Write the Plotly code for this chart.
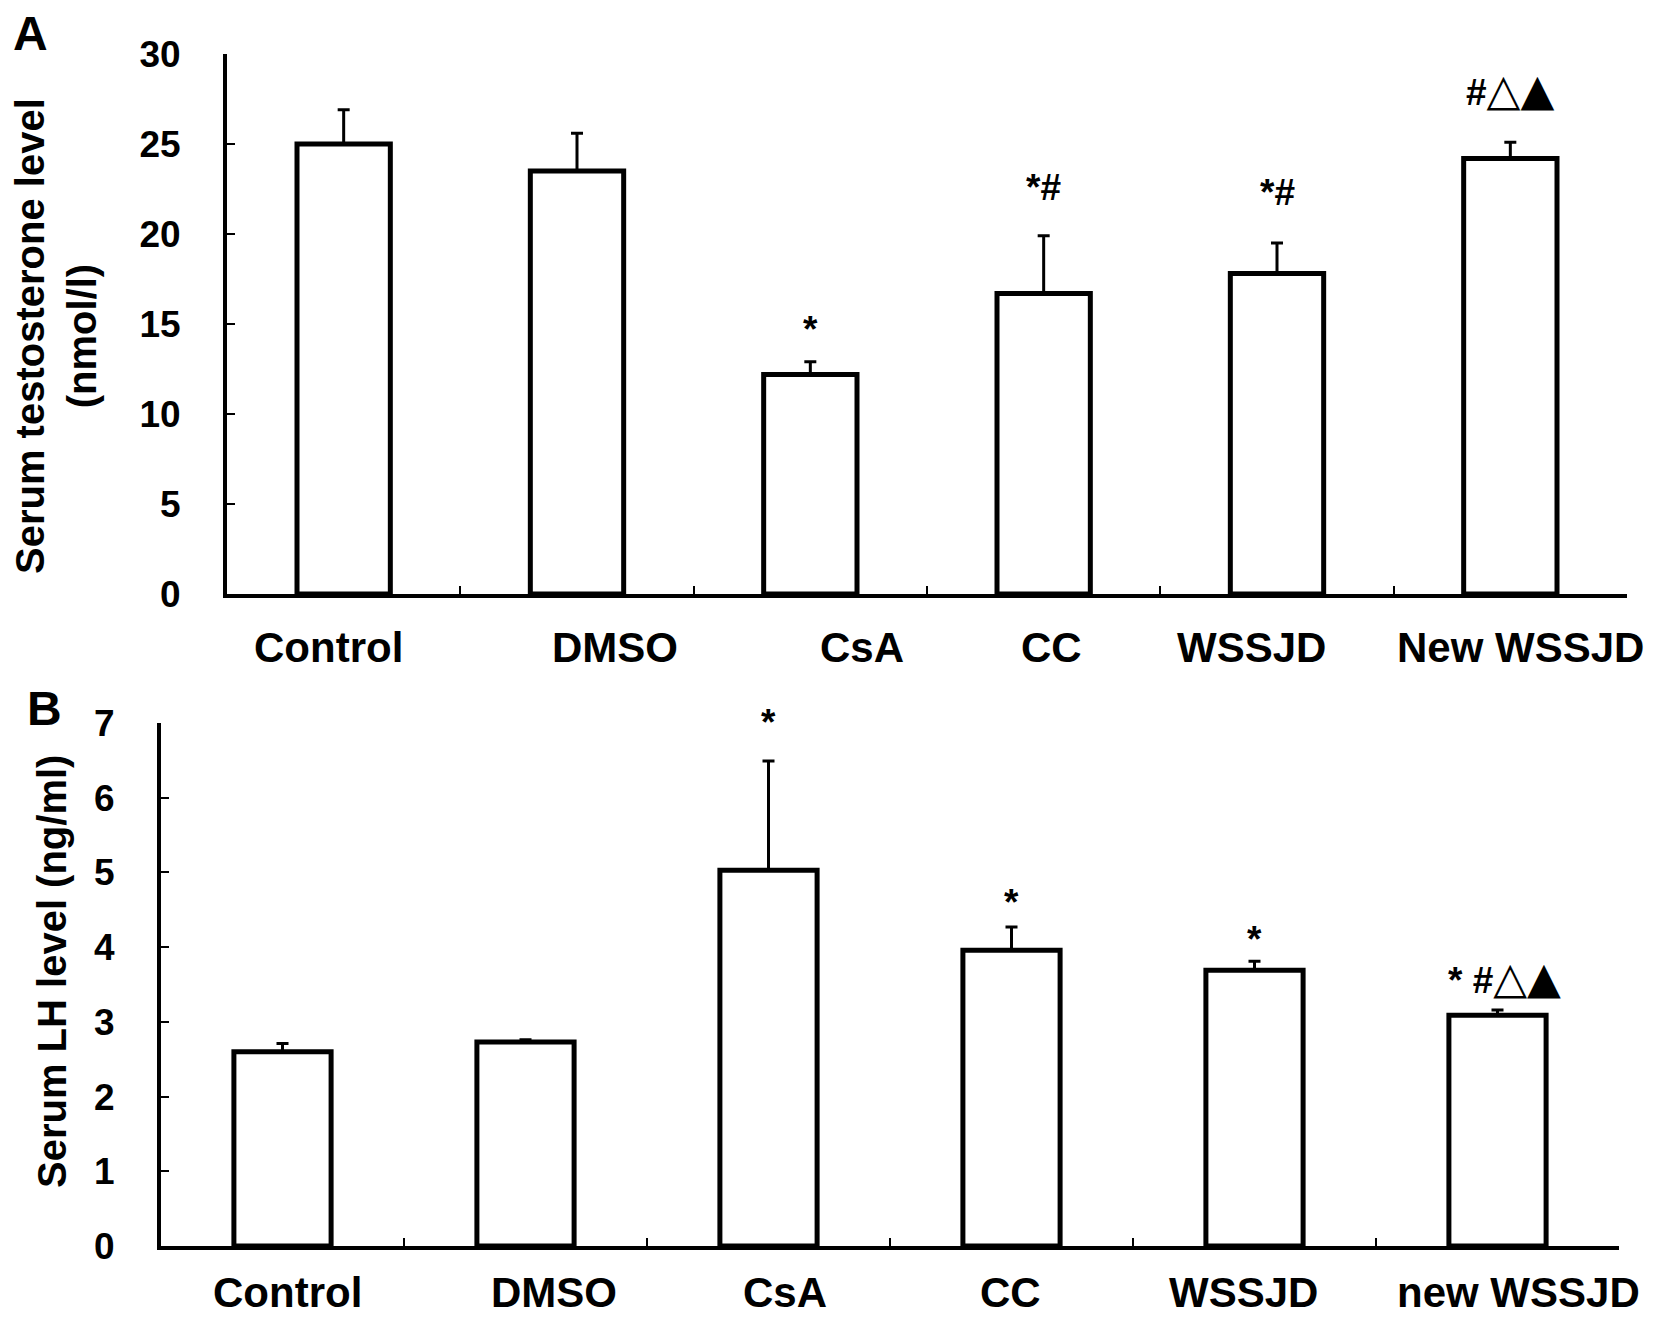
import plotly.graph_objects as go

# panel A: serum testosterone
groups_a = ["Control", "DMSO", "CsA", "CC", "WSSJD", "New WSSJD"]
testosterone = [25.0, 23.5, 12.2, 16.7, 17.8, 24.2]
testosterone_sd = [1.9, 2.1, 0.7, 3.2, 1.7, 0.9]
marks_a = ["", "", "*", "*#", "*#", "#△▲"]
marks_a_y = [0, 0, 14.7, 22.6, 22.3, 28.0]

# panel B: serum LH
groups_b = ["Control", "DMSO", "CsA", "CC", "WSSJD", "new WSSJD"]
lh = [2.60, 2.73, 5.03, 3.96, 3.69, 3.09]
lh_sd = [0.11, 0.03, 1.46, 0.31, 0.12, 0.07]
marks_b = ["", "", "*", "*", "*", "* #△▲"]
marks_b_y = [0, 0, 7.0, 4.6, 4.1, 3.6]

# the group names in the figure are not quite centred under the bars
label_shift_a = [-15, 38, 52, 8, -26, 10]
label_shift_b = [5, 28, 16, -1, -11, 21]

W, H = 1654, 1318
OFF = 8  # page body margin
FONT = "Liberation Sans, Arial, DejaVu Sans"


def px_x(p):
    return (p - OFF) / W


def px_y(p):
    return 1 - (p - OFF) / H


def styled(m):
    # triangles drawn bigger, like in the figure
    out = ""
    for ch in m:
        if ch in "△▲":
            out += "<span style='font-size:44px;font-family:DejaVu Sans'>%s</span>" % ch
        else:
            out += ch
    return out


fig = go.Figure()

fig.add_trace(go.Bar(
    x=groups_a, y=testosterone, width=0.4,
    marker=dict(color="white", line=dict(color="black", width=5)),
    error_y=dict(type="data", symmetric=False, array=testosterone_sd,
                 arrayminus=[0] * len(testosterone_sd),
                 color="black", thickness=3, width=6),
    xaxis="x", yaxis="y", showlegend=False))

fig.add_trace(go.Bar(
    x=groups_b, y=lh, width=0.4,
    marker=dict(color="white", line=dict(color="black", width=5)),
    error_y=dict(type="data", symmetric=False, array=lh_sd,
                 arrayminus=[0] * len(lh_sd),
                 color="black", thickness=3, width=6),
    xaxis="x2", yaxis="y2", showlegend=False))

tick_font = dict(family=FONT, size=37, color="black", weight="bold")
cat_font = dict(family=FONT, size=42, color="black", weight="bold")

common_x = dict(type="category", showline=True, linewidth=4, linecolor="black",
                ticks="inside", tickson="boundaries", ticklen=8, tickwidth=2,
                tickcolor="black", showgrid=False, zeroline=False,
                showticklabels=False, automargin=False, range=[-0.5, 5.5])
common_y = dict(showline=True, linewidth=4, linecolor="black",
                ticks="inside", ticklen=8, tickwidth=2, tickcolor="black",
                showgrid=False, zeroline=False, tickfont=tick_font,
                ticklabelstandoff=35, automargin=False)

fig.update_layout(
    width=W, height=H, autosize=False,
    margin=dict(l=0, r=0, t=0, b=0, autoexpand=False),
    paper_bgcolor="white", plot_bgcolor="white",
    xaxis=dict(common_x, domain=[px_x(227), px_x(1627)], anchor="y"),
    yaxis=dict(common_y, domain=[px_y(594), px_y(54)], range=[0, 30],
               dtick=5, anchor="x"),
    xaxis2=dict(common_x, domain=[px_x(161), px_x(1619)], anchor="y2"),
    yaxis2=dict(common_y, domain=[px_y(1246), px_y(723)], range=[0, 7],
                dtick=1, anchor="x2"),
)

# group names under the bars
for g, s in zip(groups_a, label_shift_a):
    fig.add_annotation(x=g, y=0, xref="x", yref="y", text=g, showarrow=False,
                       xanchor="center", yanchor="middle", xshift=s, yshift=-53,
                       font=cat_font)
for g, s in zip(groups_b, label_shift_b):
    fig.add_annotation(x=g, y=0, xref="x2", yref="y2", text=g, showarrow=False,
                       xanchor="center", yanchor="middle", xshift=s, yshift=-46,
                       font=cat_font)

mark_font = dict(family=FONT, size=37, color="black", weight="bold")
for g, m, yy in zip(groups_a, marks_a, marks_a_y):
    if m:
        fig.add_annotation(x=g, y=yy, xref="x", yref="y", text=styled(m),
                           showarrow=False, font=mark_font,
                           xanchor="center", yanchor="middle")
for g, m, yy in zip(groups_b, marks_b, marks_b_y):
    if m:
        fig.add_annotation(x=g, y=yy, xref="x2", yref="y2", text=styled(m),
                           showarrow=False, font=mark_font,
                           xanchor="center", yanchor="middle",
                           xshift=7 if len(m) > 1 else 0)

# panel letters
fig.add_annotation(x=px_x(30), y=px_y(34), xref="paper", yref="paper",
                   text="A", showarrow=False, xanchor="center", yanchor="middle",
                   font=dict(family=FONT, size=48, color="black", weight="bold"))
fig.add_annotation(x=px_x(44), y=px_y(708), xref="paper", yref="paper",
                   text="B", showarrow=False, xanchor="center", yanchor="middle",
                   font=dict(family=FONT, size=48, color="black", weight="bold"))

# y axis titles
title_font = dict(family=FONT, size=40, color="black", weight="bold")
fig.add_annotation(x=px_x(56), y=px_y(336), xref="paper", yref="paper",
                   text="Serum testosterone level<br>(nmol/l)", textangle=-90,
                   showarrow=False, xanchor="center", yanchor="middle",
                   font=title_font)
fig.add_annotation(x=px_x(52), y=px_y(972), xref="paper", yref="paper",
                   text="Serum LH level (ng/ml)", textangle=-90,
                   showarrow=False, xanchor="center", yanchor="middle",
                   font=title_font)

fig.write_html("out.html")
